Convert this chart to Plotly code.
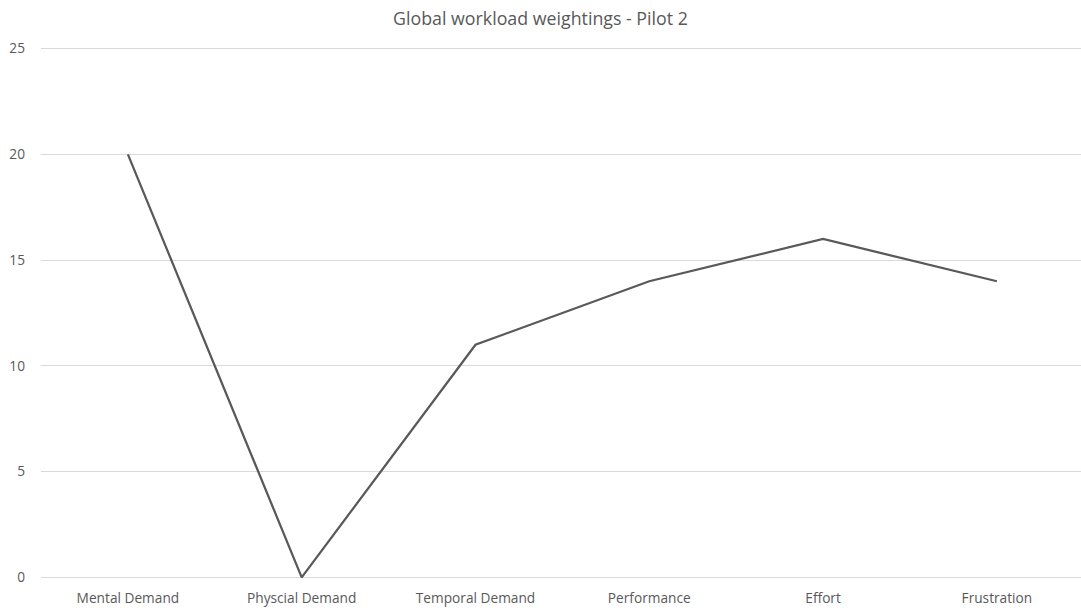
import plotly.graph_objects as go

categories = ["Mental Demand", "Physcial Demand", "Temporal Demand",
              "Performance", "Effort", "Frustration"]
weights = [20, 0, 11, 14, 16, 14]
y_ticks = [0, 5, 10, 15, 20, 25]

fig = go.Figure()
fig.add_trace(go.Scatter(
    x=list(range(len(categories))),
    y=weights,
    mode="lines",
    line=dict(color="#595959", width=2.25),
    hoverinfo="skip",
))

fig.update_layout(
    width=1081,
    height=610,
    margin=dict(l=41, r=0, t=38, b=22),
    paper_bgcolor="white",
    plot_bgcolor="white",
    showlegend=False,
    font=dict(family="Open Sans, Liberation Sans, sans-serif", size=13.7, color="#595959"),
    title=dict(
        text="Global workload weightings - Pilot 2",
        x=0.5, xanchor="center",
        y=0.969, yanchor="middle",
        font=dict(size=17.8, color="#595959"),
    ),
    xaxis=dict(
        tickmode="array",
        tickvals=list(range(len(categories))),
        ticktext=categories,
        range=[-0.5, 5.484],
        showgrid=False,
        zeroline=False,
        showline=False,
        ticks="",
        ticklabelstandoff=0,
        tickfont=dict(size=13.7, color="#595959"),
    ),
    yaxis=dict(
        range=[-0.5, 25.5],
        tickmode="array",
        tickvals=y_ticks,
        showgrid=True,
        gridcolor="#d9d9d9",
        gridwidth=1,
        zeroline=False,
        showline=False,
        ticks="",
        ticklabelstandoff=15,
        tickfont=dict(size=13.7, color="#595959"),
    ),
)

fig.write_html("out.html")
